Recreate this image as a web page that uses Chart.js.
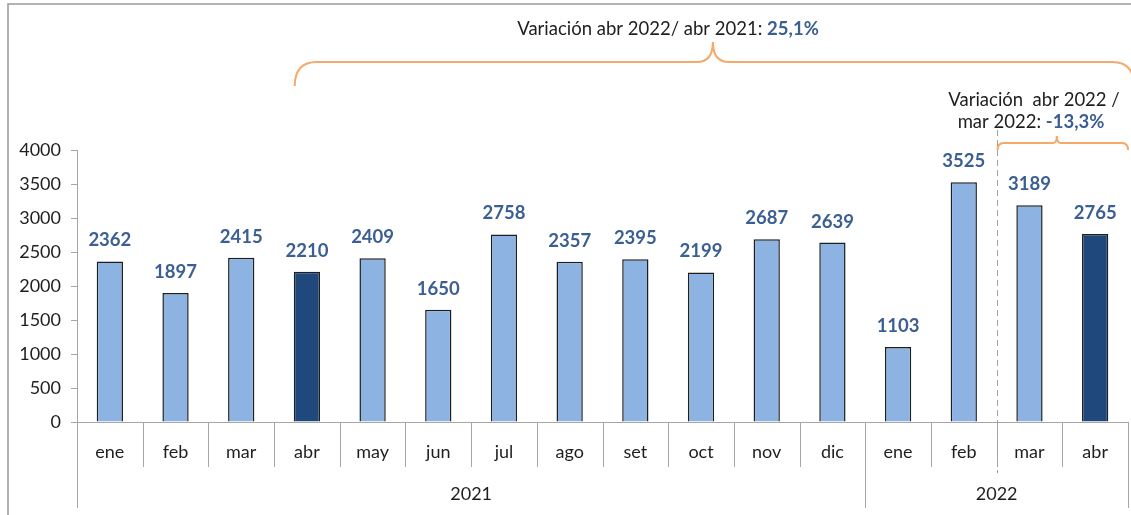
<!DOCTYPE html>
<html>
<head>
<meta charset="utf-8">
<script src="https://cdn.jsdelivr.net/npm/chart.js@4.4.1/dist/chart.umd.min.js"></script>
<style>
html,body{margin:0;padding:0;background:#fff;}
canvas{display:block;}
</style>
</head>
<body>
<canvas id="c" width="1131" height="515"></canvas>
<script>
const categories = ['ene','feb','mar','abr','may','jun','jul','ago','set','oct','nov','dic','ene','feb','mar','abr'];
const values = [2362,1897,2415,2210,2409,1650,2758,2357,2395,2199,2687,2639,1103,3525,3189,2765];
const highlighted = [3,15];
const years = ['2021','2022'];
const yearSpans = [12,4];
const yTickStep = 500;
const yMax = 4000;
const annot1 = ['Variación abr 2022/ abr 2021: ', '25,1%'];
const annot2a = 'Variación  abr 2022 /';
const annot2b = ['mar 2022: ', '-13,3%'];

const FONT = "Lato, 'Noto Sans', sans-serif";
const LIGHT = '#8DB3E2', DARK = '#1F497D', LABEL = '#3B5F92', ORANGE = '#F5A96A', GREY = '#A6A6A6', TXT = '#1E1E1E';

const bg = values.map((v,i)=> highlighted.includes(i) ? DARK : LIGHT);

function brace(ctx, x1, x2, y, drop, r, peak, r2, mid) {
  ctx.beginPath();
  ctx.moveTo(x1, y + drop);
  ctx.quadraticCurveTo(x1, y, x1 + r, y);
  ctx.lineTo(mid - r2, y);
  ctx.quadraticCurveTo(mid, y, mid, y - peak);
  ctx.quadraticCurveTo(mid, y, mid + r2, y);
  ctx.lineTo(x2 - r, y);
  ctx.quadraticCurveTo(x2, y, x2, y + drop);
  ctx.stroke();
}

function twoTone(ctx, parts, cx, y, colors, fonts) {
  ctx.font = fonts[0];
  const w0 = ctx.measureText(parts[0]).width;
  ctx.font = fonts[1];
  const w1 = ctx.measureText(parts[1]).width;
  let x = cx - (w0 + w1) / 2;
  ctx.textAlign = 'left';
  ctx.font = fonts[0];
  ctx.fillStyle = colors[0];
  ctx.fillText(parts[0], x, y);
  ctx.font = fonts[1];
  ctx.fillStyle = colors[1];
  ctx.fillText(parts[1], x + w0, y);
}

const overlay = {
  id: 'overlay',
  afterDatasetsDraw(chart) {
    const ctx = chart.ctx;
    const meta = chart.getDatasetMeta(0);
    ctx.save();
    ctx.font = 'bold 18.5px ' + FONT;
    ctx.fillStyle = LABEL;
    ctx.textAlign = 'center';
    ctx.textBaseline = 'middle';
    meta.data.forEach((bar, i) => {
      ctx.fillText(String(values[i]), bar.x, bar.y - 21);
    });
    ctx.restore();
  },
  afterDraw(chart) {
    const ctx = chart.ctx;
    const ca = chart.chartArea;
    const xs = chart.scales.x;
    const n = categories.length;
    const cw = (ca.right - ca.left) / n;
    const edge = i => ca.left + i * cw;
    ctx.save();
    // outer frame
    ctx.strokeStyle = '#9A9A9A';
    ctx.lineWidth = 1.5;
    ctx.beginPath();
    ctx.moveTo(8, 515); ctx.lineTo(8, 4); ctx.lineTo(1131, 4);
    ctx.stroke();

    // category separators
    ctx.strokeStyle = GREY;
    ctx.lineWidth = 1;
    const groupEdges = [0];
    yearSpans.reduce((a, s) => { groupEdges.push(a + s); return a + s; }, 0);
    for (let i = 0; i <= n; i++) {
      const x = Math.round(edge(i)) + 0.5;
      const bottom = groupEdges.includes(i) ? 508 : 467;
      ctx.beginPath();
      ctx.moveTo(x, ca.bottom);
      ctx.lineTo(x, bottom);
      ctx.stroke();
    }
    // category labels
    ctx.fillStyle = TXT;
    ctx.font = '18px ' + FONT;
    ctx.textAlign = 'center';
    ctx.textBaseline = 'middle';
    categories.forEach((c, i) => ctx.fillText(c, xs.getPixelForValue(i), 452));
    // year labels
    let start = 0;
    years.forEach((yv, k) => {
      const cx = (edge(start) + edge(start + yearSpans[k])) / 2;
      ctx.fillText(yv, cx, 494);
      start += yearSpans[k];
    });

    // dashed separator between feb and mar 2022
    const dx = Math.round(edge(14)) + 0.5;
    ctx.strokeStyle = '#A0A0A0';
    ctx.setLineDash([6, 4]);
    ctx.beginPath();
    ctx.moveTo(dx, 130);
    ctx.lineTo(dx, 473);
    ctx.stroke();
    ctx.setLineDash([]);

    // braces
    const meta = chart.getDatasetMeta(0);
    const b3 = meta.data[3];
    const left1 = b3.x - b3.width / 2 + 1;
    const right1 = ca.right + 6;
    ctx.strokeStyle = ORANGE;
    ctx.lineWidth = 2;
    brace(ctx, left1, right1, 62, 24, 22, 20, 16, (left1 + 1131) / 2);
    const left2 = edge(14) + 1;
    const right2 = ca.right;
    brace(ctx, left2, right2, 143, 7, 6, 7, 4, (left2 + right2) / 2 - 6);

    // texts
    ctx.textBaseline = 'middle';
    const f = '18.5px ' + FONT, fb = 'bold 18.5px ' + FONT;
    twoTone(ctx, annot1, 668, 29, [TXT, LABEL], [f, fb]);
    ctx.font = f;
    ctx.fillStyle = TXT;
    ctx.textAlign = 'center';
    ctx.fillText(annot2a, 1034, 100);
    twoTone(ctx, annot2b, 1031, 122, [TXT, LABEL], [f, fb]);
    ctx.restore();
  }
};

new Chart(document.getElementById('c'), {
  type: 'bar',
  data: {
    labels: categories,
    datasets: [{
      data: values,
      backgroundColor: bg,
      borderColor: '#1E1E1E',
      borderWidth: 1.5,
      barPercentage: 0.4,
      categoryPercentage: 1.0
    }]
  },
  options: {
    responsive: false,
    animation: false,
    devicePixelRatio: 1,
    layout: { padding: { top: 150, right: 3, left: 0, bottom: 0 } },
    plugins: { legend: { display: false }, tooltip: { enabled: false }, title: { display: false } },
    scales: {
      x: {
        ticks: { display: false },
        grid: { display: false },
        border: { display: true, color: GREY, width: 1 },
        afterFit(s) { s.height = 93; }
      },
      y: {
        min: 0, max: yMax,
        ticks: { stepSize: yTickStep, color: TXT, font: { size: 18, family: FONT }, padding: 10,
                 callback: v => String(v) },
        grid: { drawOnChartArea: false, drawTicks: true, tickLength: 6, color: GREY },
        border: { display: true, color: GREY, width: 1 },
        afterFit(s) { s.width = 77; }
      }
    }
  },
  plugins: [overlay]
});
</script>
</body>
</html>
